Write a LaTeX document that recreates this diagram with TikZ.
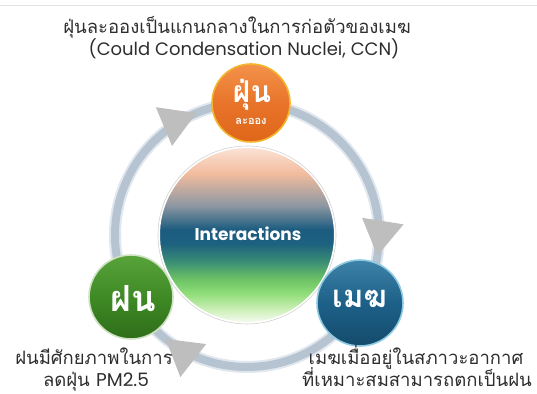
\documentclass[tikz,border=0pt]{standalone}
\usepackage{fontspec}
\newfontfamily\thaifont[Script=Thai]{Loma}
\newfontfamily\latinfont{Poppins}
\usetikzlibrary{arrows.meta,decorations.markings}

% palette
\definecolor{dustorange}{HTML}{E8742A}
\definecolor{dustlight}{HTML}{F3924A}
\definecolor{dustdark}{HTML}{DE6619}
\definecolor{dustrim}{HTML}{F4B52C}
\definecolor{raingreen}{HTML}{3F8A25}
\definecolor{rainlight}{HTML}{58A33A}
\definecolor{raindark}{HTML}{2E6D19}
\definecolor{rainrim}{HTML}{CFE3C4}
\definecolor{cloudblue}{HTML}{1D6088}
\definecolor{cloudlight}{HTML}{3E82A8}
\definecolor{clouddark}{HTML}{144B6C}
\definecolor{cloudrim}{HTML}{8ECBE2}
\definecolor{ringcol}{HTML}{B6C3D0}
\definecolor{ringedge}{HTML}{E1E7EE}
\definecolor{arrowgray}{HTML}{BEBEBE}
\definecolor{textgray}{HTML}{2E2E2E}
\definecolor{rulegray}{HTML}{E3E3E3}
\definecolor{coreA}{HTML}{FBE3D6}
\definecolor{coreB}{HTML}{F2BC9E}
\definecolor{coreC}{HTML}{8F98A2}
\definecolor{coreD}{HTML}{1B5B7F}
\definecolor{coreE}{HTML}{1D6180}
\definecolor{coreF}{HTML}{3A8D74}
\definecolor{coreG}{HTML}{6CC264}
\definecolor{coreH}{HTML}{8FDD78}
\definecolor{coreI}{HTML}{CBEFB6}
\definecolor{coreJ}{HTML}{F7FCF3}

% peach -> deep blue -> green -> white, top to bottom
\pgfdeclareverticalshading{coreshade}{100bp}{%
  color(0bp)=(coreJ); color(25bp)=(coreJ); color(29bp)=(coreI);
  color(33.5bp)=(coreH); color(37.5bp)=(coreG); color(42.5bp)=(coreF);
  color(47.5bp)=(coreE); color(51.5bp)=(coreD); color(58.5bp)=(coreC);
  color(67.5bp)=(coreB); color(75bp)=(coreA); color(100bp)=(coreA)}

\tikzset{
  caption/.style={inner sep=0pt, text=textgray, font=\fontsize{18.5}{22}\selectfont},
  corenode/.style={circle, minimum size=176pt, inner sep=0pt, shading=coreshade,
    draw=white, line width=2pt},
  ballnode/.style={circle, inner sep=0pt, line width=1.6pt},
  balltext/.style={inner sep=0pt, text=white, anchor=base},
  ringglow/.style={draw=ringedge, line width=12pt},
  ringline/.style={draw=ringcol, line width=8pt},
  ringarrows/.style={postaction={decorate}, decoration={markings,
    mark=at position 0.3128 with {\arrowreversed{Triangle[width=42pt, length=35pt, line width=0pt, color=arrowgray]}},
    mark=at position 0.6444 with {\arrowreversed{Triangle[width=42pt, length=35pt, line width=0pt, color=arrowgray]}},
    mark=at position 0.975 with {\arrowreversed{Triangle[width=42pt, length=35pt, line width=0pt, color=arrowgray]}}}}
}

\begin{document}
\begin{tikzpicture}[x=1pt, y=1pt]
\useasboundingbox (0,0) rectangle (537,393);

% thin rule along the top
\draw[rulegray, line width=1pt] (0,387) -- (537,387);

% centre disc
\node[corenode] (core) at (247,158) {};
\draw[gray!35, line width=0.6pt] (core.center) circle[radius=89];

% the cycle ring with its three arrowheads
\draw[ringglow] (core.center) circle[radius=132];
\draw[ringline, ringarrows] (core.center) circle[radius=132];

\node[text=white, inner sep=0pt, font=\latinfont\bfseries\fontsize{17}{20}\selectfont]
  (coreword) at (248,159) {Interactions};

% dust
\node[ballnode, minimum size=78pt, top color=dustlight, bottom color=dustdark,
  middle color=dustorange, draw=dustrim] (dust) at (251,290) {};
\node[balltext, font=\thaifont\bfseries\fontsize{30}{30}\selectfont] (dustword) at (252,290) {ฝุ่น};
\node[balltext, font=\thaifont\bfseries\fontsize{11}{11}\selectfont] (dustsub) at (251,268) {ละออง};

% rain
\node[ballnode, minimum size=84pt, top color=rainlight, bottom color=raindark,
  middle color=raingreen, draw=rainrim] (rain) at (131,96) {};
\node[balltext, font=\thaifont\bfseries\fontsize{36}{36}\selectfont] (rainword) at (133,81) {ฝน};

% cloud
\node[ballnode, minimum size=86pt, top color=cloudlight, bottom color=clouddark,
  middle color=cloudblue, draw=cloudrim] (cloud) at (360,90) {};
\node[balltext, font=\thaifont\bfseries\fontsize{31}{31}\selectfont] (cloudword) at (360,85) {เมฆ};

% captions
\node[caption, anchor=base] (dusttext) at (237,359) {\thaifont ฝุ่นละอองเป็นแกนกลางในการก่อตัวของเมฆ};
\node[caption, anchor=base, font=\fontsize{18}{22}\selectfont] (ccntext) at (244,337) {\latinfont (Could Condensation Nuclei, CCN)};
\node[caption, anchor=base] (raintext) at (94,29) {\thaifont ฝนมีศักยภาพในการ};
\node[caption, anchor=base] (pmtext) at (96,7) {\thaifont ลดฝุ่น \latinfont PM2.5};
\node[caption, anchor=base] (cloudtext) at (416,29) {\thaifont เมฆเมื่ออยู่ในสภาวะอากาศ};
\node[caption, anchor=base] (falltext) at (417,7) {\thaifont ที่เหมาะสมสามารถตกเป็นฝน};
\end{tikzpicture}
\end{document}
